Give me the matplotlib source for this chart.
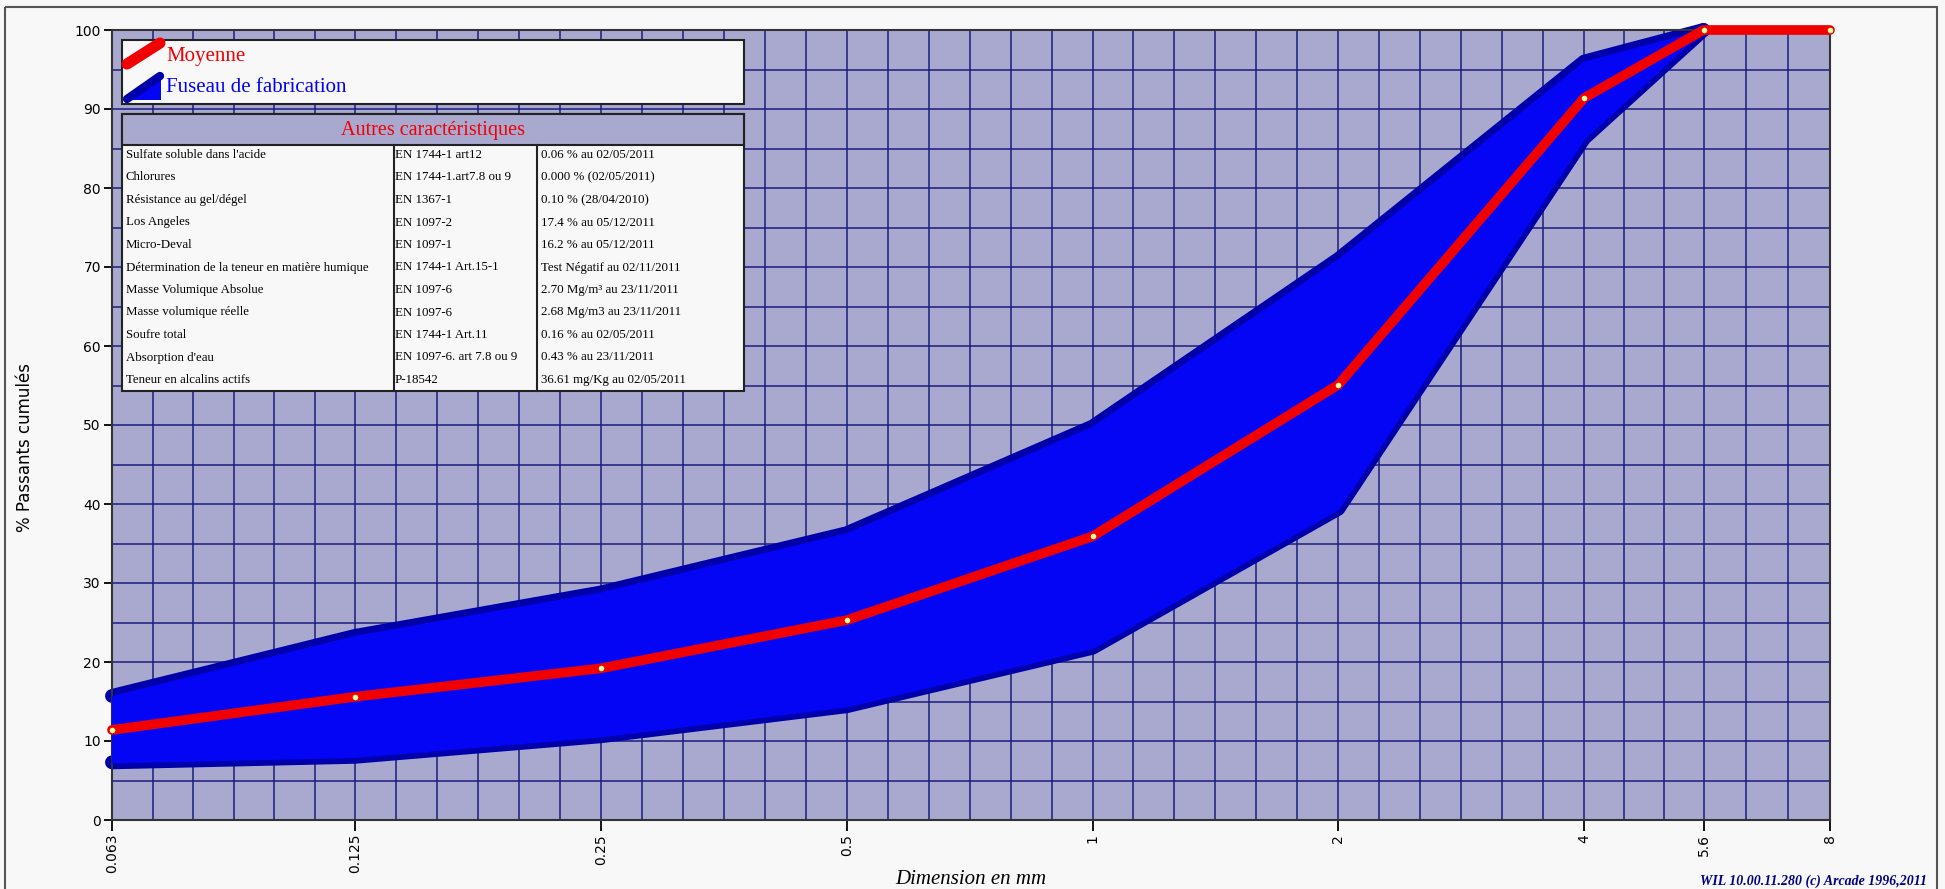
import matplotlib
matplotlib.use('Agg')
import matplotlib.pyplot as plt
import numpy as np
from matplotlib.patches import Rectangle, Polygon
from matplotlib.ticker import NullFormatter

W, H = 1945, 889

# tamis (mm) et courbes
tamis = [0.063, 0.125, 0.25, 0.5, 1, 2, 4, 5.6, 8]
tamis_labels = ['0.063', '0.125', '0.25', '0.5', '1', '2', '4', '5.6', '8']
moyenne = [11.4, 15.6, 19.2, 25.3, 35.9, 55.1, 91.4, 100, 100]

fuseau_tamis = [0.063, 0.125, 0.25, 0.5, 1, 2, 4, 5.6]
fuseau_haut = [15.7, 23.3, 28.8, 36.3, 49.8, 71.0, 96.0, 100]
fuseau_bas = [7.3, 8.0, 10.6, 14.4, 21.8, 39.4, 86.3, 100]

caract_noms = [
    "Sulfate soluble dans l'acide",
    "Chlorures",
    "Résistance au gel/dégel",
    "Los Angeles",
    "Micro-Deval",
    "Détermination de la teneur en matière humique",
    "Masse Volumique Absolue",
    "Masse volumique réelle",
    "Soufre total",
    "Absorption d'eau",
    "Teneur en alcalins actifs",
]
caract_normes = [
    "EN 1744-1 art12",
    "EN 1744-1.art7.8 ou 9",
    "EN 1367-1",
    "EN 1097-2",
    "EN 1097-1",
    "EN 1744-1 Art.15-1",
    "EN 1097-6",
    "EN 1097-6",
    "EN 1744-1 Art.11",
    "EN 1097-6. art 7.8 ou 9",
    "P-18542",
]
caract_valeurs = [
    "0.06 % au 02/05/2011",
    "0.000 % (02/05/2011)",
    "0.10 % (28/04/2010)",
    "17.4 % au 05/12/2011",
    "16.2 % au 05/12/2011",
    "Test Négatif au 02/11/2011",
    "2.70 Mg/m³ au 23/11/2011",
    "2.68 Mg/m3 au 23/11/2011",
    "0.16 % au 02/05/2011",
    "0.43 % au 23/11/2011",
    "36.61 mg/Kg au 02/05/2011",
]

BG = '#f8f8f8'
LAV = '#a9a9d0'
GRID = '#1c1c7e'
SERIF = 'Liberation Serif'

fig = plt.figure(figsize=(W / 100, H / 100), dpi=100, facecolor=BG)
ax = fig.add_axes([112 / W, 1 - 820 / H, (1830 - 112) / W, (820 - 30) / H])
ax.set_facecolor(LAV)
ax.set_xscale('log')
ax.set_xlim(0.063, 8)
ax.set_ylim(0, 100)

# grille verticale : subdivisions régulières entre tamis
grille_x = []
for a, b in zip(tamis[:-1], tamis[1:]):
    n = max(1, int(round(6 * np.log2(b / a))))
    grille_x += list(a * (b / a) ** (np.arange(1, n) / n))
ax.set_xticks(tamis, labels=tamis_labels, rotation=90)
ax.set_xticks(grille_x, minor=True)
ax.xaxis.set_minor_formatter(NullFormatter())
ax.set_yticks(range(0, 101, 10))
ax.set_yticks(range(5, 100, 10), minor=True)
ax.set_axisbelow(True)
ax.grid(True, which='both', color=GRID, lw=1.1)
ax.tick_params(axis='x', which='major', length=8, width=1.3, pad=2, labelsize=10)
ax.tick_params(axis='y', which='major', length=6, width=1.3, pad=2, labelsize=10)
ax.tick_params(which='minor', length=0)
for s in ax.spines.values():
    s.set_color('#333333')
    s.set_linewidth(1.5)

# fuseau de fabrication
for bord in (fuseau_haut, fuseau_bas):
    ax.plot(fuseau_tamis, bord, color='#0000aa', lw=10, solid_capstyle='round',
            solid_joinstyle='round', clip_on=False, zorder=2)
ax.fill_between(fuseau_tamis, fuseau_bas, fuseau_haut, facecolor='#0505f5',
                edgecolor='#0505f5', lw=1, clip_on=False, zorder=3)

# moyenne
ax.plot(tamis, moyenne, color='#f00000', lw=7, solid_capstyle='round',
        solid_joinstyle='round', clip_on=False, zorder=4)
ax.plot(tamis, moyenne, 'o', ms=4, color='#ffffa0', mec='none', clip_on=False, zorder=5)

# couche de décor en pixels
ov = fig.add_axes([0, 0, 1, 1])
ov.set_xlim(0, W)
ov.set_ylim(H, 0)
ov.axis('off')

ov.add_patch(Rectangle((5, 7), 1932, 900, fill=False, ec='#555555', lw=1.5))

# légende
ov.add_patch(Rectangle((122, 40), 622, 64, fc=BG, ec='#222222', lw=1.5))
ov.plot([127, 160], [64, 43], color='#f00000', lw=8, solid_capstyle='round')
ov.add_patch(Polygon([(127, 100), (161, 100), (161, 75)], closed=True, fc='#0505f5', ec='none'))
ov.plot([127, 160], [99, 76], color='#0000aa', lw=6, solid_capstyle='round')
ov.text(166, 56, 'Moyenne', color='#f00000', fontsize=15, family=SERIF, va='center')
ov.text(166, 88, 'Fuseau de fabrication', color='#0000ff', fontsize=15, family=SERIF, va='center')

# tableau des caractéristiques
ov.add_patch(Rectangle((122, 114), 622, 277, fc=BG, ec='#222222', lw=1.5))
ov.add_patch(Rectangle((122, 114), 622, 31, fc=LAV, ec='#222222', lw=1.5))
ov.text(433, 130, 'Autres caractéristiques', color='#f00000', fontsize=14.5,
        family=SERIF, ha='center', va='center')
for xc in (394, 537):
    ov.plot([xc, xc], [145, 391], color='#222222', lw=1.5)
for i, (nom, norme, val) in enumerate(zip(caract_noms, caract_normes, caract_valeurs)):
    y = 155 + i * 22.5
    ov.text(126, y, nom, fontsize=9.3, family=SERIF, va='center')
    ov.text(395, y, norme, fontsize=9.3, family=SERIF, va='center')
    ov.text(541, y, val, fontsize=9.3, family=SERIF, va='center')

# titres d'axes
ov.text(25, 447, '% Passants cumulés', rotation=90, fontsize=12, ha='center', va='center')
ov.text(971, 879, 'Dimension en mm', fontsize=15, family=SERIF, style='italic',
        ha='center', va='center')
ov.text(1927, 881, 'WIL 10.00.11.280 (c) Arcade 1996,2011', fontsize=10, family=SERIF,
        style='italic', weight='bold', color='#000080', ha='right', va='center')

fig.savefig('out.png', dpi=100, facecolor=fig.get_facecolor())
